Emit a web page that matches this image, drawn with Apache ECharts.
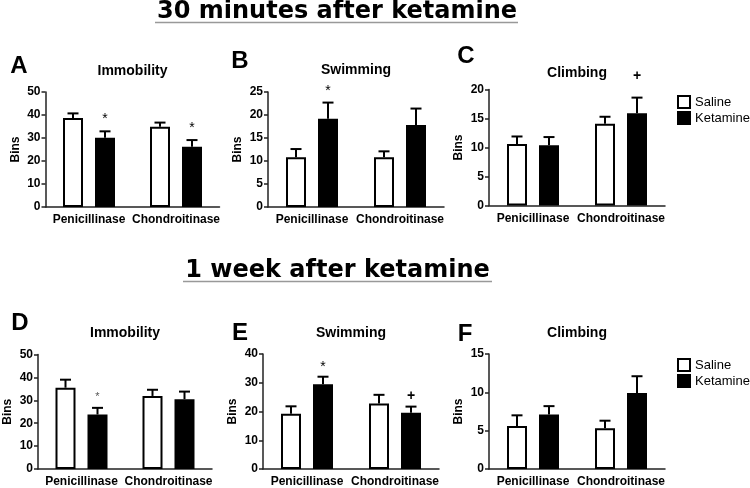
<!DOCTYPE html>
<html>
<head>
<meta charset="utf-8">
<script src="https://cdn.jsdelivr.net/npm/echarts@6/dist/echarts.min.js"></script>
<style>
html,body{margin:0;padding:0;background:#fff;}
#chart{width:750px;height:488px;}
</style>
</head>
<body>
<div id="chart"></div>
<script>
// ---------- data ----------
const categories = ['Penicillinase', 'Chondroitinase'];
const seriesNames = ['Saline', 'Ketamine'];
const sectionTitles = ['30 minutes after ketamine', '1 week after ketamine'];
const panelLetters = ['A', 'B', 'C', 'D', 'E', 'F'];
const panelTitles = ['Immobility', 'Swimming', 'Climbing', 'Immobility', 'Swimming', 'Climbing'];
const yAxisName = 'Bins';

// 30 minutes after ketamine
const immob30Saline = [38.7, 34.9];
const immob30SalineErr = [2.0, 1.8];
const immob30Ketamine = [30.1, 26.2];
const immob30KetamineErr = [2.8, 2.9];
const immob30Marks = ['*', '*'];

const swim30Saline = [10.8, 10.8];
const swim30SalineErr = [1.8, 1.3];
const swim30Ketamine = [19.2, 17.8];
const swim30KetamineErr = [3.5, 3.6];
const swim30Marks = ['*', ''];

const climb30Saline = [10.6, 14.1];
const climb30SalineErr = [1.3, 1.2];
const climb30Ketamine = [10.4, 15.9];
const climb30KetamineErr = [1.4, 2.7];
const climb30Marks = ['', '+'];

// 1 week after ketamine
const immob1wSaline = [35.5, 31.9];
const immob1wSalineErr = [3.5, 2.7];
const immob1wKetamine = [23.8, 30.5];
const immob1wKetamineErr = [2.9, 3.3];
const immob1wMarks = ['*', ''];

const swim1wSaline = [19.2, 22.8];
const swim1wSalineErr = [2.6, 3.0];
const swim1wKetamine = [29.5, 19.6];
const swim1wKetamineErr = [2.6, 2.1];
const swim1wMarks = ['*', '+'];

const climb1wSaline = [5.6, 5.3];
const climb1wSalineErr = [1.4, 1.0];
const climb1wKetamine = [7.1, 9.9];
const climb1wKetamineErr = [1.1, 2.2];
const climb1wMarks = ['', ''];

// y-axis scales (max, interval)
const yMax = [50, 25, 20, 50, 40, 15];
const yStep = [10, 5, 5, 10, 10, 5];

// ---------- layout / style ----------
const FONT = 'Liberation Sans, Arial, sans-serif';
const BAR_W = 20, BAR_GAP = 0.6, BORDER = 2;
const AXIS_COLOR = '#222';

const panelData = [
  [immob30Saline, immob30SalineErr, immob30Ketamine, immob30KetamineErr, immob30Marks],
  [swim30Saline, swim30SalineErr, swim30Ketamine, swim30KetamineErr, swim30Marks],
  [climb30Saline, climb30SalineErr, climb30Ketamine, climb30KetamineErr, climb30Marks],
  [immob1wSaline, immob1wSalineErr, immob1wKetamine, immob1wKetamineErr, immob1wMarks],
  [swim1wSaline, swim1wSalineErr, swim1wKetamine, swim1wKetamineErr, swim1wMarks],
  [climb1wSaline, climb1wSalineErr, climb1wKetamine, climb1wKetamineErr, climb1wMarks]
];

const panelLayout = [
  {grid: {left: 45.5, top: 92, width: 174, height: 115}, letter: [19, 66], title: [132.5, 71], markGap: 12},
  {grid: {left: 268, top: 92, width: 176, height: 115}, letter: [240, 61], title: [356, 70], markGap: 11},
  {grid: {left: 489, top: 89.5, width: 176, height: 116}, letter: [466, 56], title: [577, 73], markGap: 21},
  {grid: {left: 38, top: 354.5, width: 174, height: 116}, letter: [20, 323.5], title: [125, 333], markGap: 11},
  {grid: {left: 263, top: 354, width: 176, height: 116.7}, letter: [240, 333], title: [351, 333], markGap: 10},
  {grid: {left: 489, top: 354, width: 176, height: 116.7}, letter: [465, 334], title: [577, 333], markGap: 10}
];

const grid = [], xAxis = [], yAxis = [], series = [], graphic = [];

function errorSeries(p, values, errs, marks, offset, markStyle) {
  return {
    type: 'custom',
    xAxisIndex: p, yAxisIndex: p,
    z: 5,
    silent: true,
    clip: false,
    data: values.map((v, i) => [i, v, errs[i]]),
    renderItem: function (params, api) {
      const ci = api.value(0), v = api.value(1), e = api.value(2);
      const base = api.coord([ci, v]);
      const top = api.coord([ci, v + e]);
      const x = base[0] + offset;
      const children = [
        {type: 'line', shape: {x1: x, y1: base[1], x2: x, y2: top[1]}, style: {stroke: '#000', lineWidth: 2}},
        {type: 'line', shape: {x1: x - 5.5, y1: top[1], x2: x + 5.5, y2: top[1]}, style: {stroke: '#000', lineWidth: 2}}
      ];
      const m = marks ? marks[params.dataIndex] : '';
      if (m) {
        children.push({
          type: 'text',
          x: x, y: top[1] - panelLayout[p].markGap,
          style: Object.assign({text: m, align: 'center', verticalAlign: 'middle', fontFamily: FONT}, markStyle(m))
        });
      }
      return {type: 'group', children: children};
    }
  };
}

for (let p = 0; p < 6; p++) {
  const L = panelLayout[p];
  grid.push(Object.assign({containLabel: false}, L.grid));
  xAxis.push({
    type: 'category', gridIndex: p, data: categories,
    axisLine: {lineStyle: {color: AXIS_COLOR, width: 1.5}},
    axisTick: {alignWithLabel: true, length: 4, lineStyle: {color: AXIS_COLOR, width: 1.5}},
    axisLabel: {color: '#000', fontWeight: 'bold', fontSize: 12, fontFamily: FONT, margin: 7, interval: 0},
    splitLine: {show: false}
  });
  yAxis.push({
    type: 'value', gridIndex: p, min: 0, max: yMax[p], interval: yStep[p],
    name: yAxisName, nameLocation: 'middle', nameGap: 24, nameRotate: 90,
    nameTextStyle: {color: '#000', fontWeight: 'bold', fontSize: 12, fontFamily: FONT},
    axisLine: {show: true, lineStyle: {color: AXIS_COLOR, width: 1.5}},
    axisTick: {show: true, length: 4, lineStyle: {color: AXIS_COLOR, width: 1.5}},
    axisLabel: {color: '#000', fontWeight: 'bold', fontSize: 12, fontFamily: FONT, margin: 5},
    splitLine: {show: false}
  });
  const d = panelData[p];
  series.push({
    name: seriesNames[0], type: 'bar', xAxisIndex: p, yAxisIndex: p,
    data: d[0], barWidth: BAR_W, barGap: (BAR_GAP * 100) + '%',
    itemStyle: {color: '#fff', borderColor: '#000', borderWidth: BORDER},
    emphasis: {disabled: true}, silent: true
  });
  series.push({
    name: seriesNames[1], type: 'bar', xAxisIndex: p, yAxisIndex: p,
    data: d[2], barWidth: BAR_W, barGap: (BAR_GAP * 100) + '%',
    itemStyle: {color: '#000', borderColor: '#000', borderWidth: BORDER},
    emphasis: {disabled: true}, silent: true
  });
  const off = (BAR_W + BAR_W * BAR_GAP) / 2;
  series.push(errorSeries(p, d[0], d[1], null, -off, null));
  const small = p === 3;
  series.push(errorSeries(p, d[2], d[3], d[4], off, function (m) {
    if (m === '+') return {fontSize: 14, fontWeight: 'bold', fill: '#000'};
    return small ? {fontSize: 11, fill: '#555'} : {fontSize: 14, fill: '#000'};
  }));

  graphic.push({
    type: 'text', x: L.letter[0], y: L.letter[1],
    style: {text: panelLetters[p], fontSize: 24, fontWeight: 'bold', fontFamily: FONT, fill: '#000', align: 'center', verticalAlign: 'middle'}
  });
  graphic.push({
    type: 'text', x: L.title[0], y: L.title[1],
    style: {text: panelTitles[p], fontSize: 14, fontWeight: 'bold', fontFamily: FONT, fill: '#000', align: 'center', verticalAlign: 'middle'}
  });
}

// section titles with underline
const sectionPos = [{x: 337, y: 12, line: [155, 518, 22.5]}, {x: 337.5, y: 271, line: [183, 492, 281.5]}];
sectionTitles.forEach((t, i) => {
  const s = sectionPos[i];
  graphic.push({
    type: 'text', x: s.x, y: s.y,
    style: {text: t, fontSize: 24, fontWeight: 'bold', fontFamily: 'DejaVu Sans, sans-serif', fill: '#000', align: 'center', verticalAlign: 'middle'}
  });
  graphic.push({
    type: 'line', shape: {x1: s.line[0], y1: s.line[2], x2: s.line[1], y2: s.line[2]},
    style: {stroke: '#999', lineWidth: 1.5}
  });
});

const legendBase = {
  data: seriesNames, orient: 'vertical', icon: 'rect', itemWidth: 12, itemHeight: 12, itemGap: 2,
  padding: 0, selectedMode: false,
  textStyle: {color: '#000', fontSize: 13, fontFamily: FONT}
};

const option = {
  animation: false,
  backgroundColor: '#fff',
  grid: grid, xAxis: xAxis, yAxis: yAxis, series: series,
  legend: [
    Object.assign({left: 677, top: 95}, legendBase),
    Object.assign({left: 677, top: 358}, legendBase)
  ],
  graphic: graphic
};

const chart = echarts.init(document.getElementById('chart'), null, {renderer: 'canvas'});
chart.setOption(option);
</script>
</body>
</html>
